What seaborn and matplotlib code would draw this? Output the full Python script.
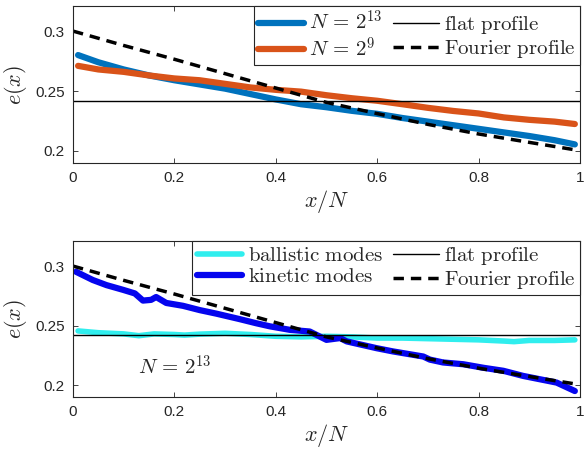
import matplotlib
matplotlib.use('Agg')
import matplotlib.pyplot as plt
import seaborn as sns

# top panel: energy profile for two system sizes
x_top = [0.01, 0.05, 0.10, 0.15, 0.20, 0.25, 0.30, 0.35, 0.40, 0.45, 0.50,
         0.55, 0.60, 0.65, 0.70, 0.75, 0.80, 0.85, 0.90, 0.95, 0.99]
e_n13 = [0.280, 0.274, 0.268, 0.263, 0.259, 0.2555, 0.252, 0.2475, 0.243, 0.239, 0.2365,
         0.2335, 0.231, 0.2275, 0.2245, 0.2215, 0.2185, 0.2155, 0.2125, 0.209, 0.2055]
e_n9 = [0.271, 0.268, 0.266, 0.263, 0.2605, 0.259, 0.256, 0.253, 0.251, 0.2495, 0.2465,
        0.244, 0.2419, 0.239, 0.236, 0.2334, 0.2313, 0.228, 0.226, 0.2245, 0.2225]

# bottom panel: ballistic / kinetic contributions for N = 2^13
x_kin = [0.006, 0.039, 0.066, 0.099, 0.122, 0.138, 0.154, 0.164, 0.184, 0.217, 0.25,
         0.283, 0.329, 0.361, 0.388, 0.428, 0.467, 0.50, 0.527, 0.54, 0.599, 0.631,
         0.691, 0.704, 0.73, 0.77, 0.81, 0.849, 0.888, 0.928, 0.954, 0.99]
e_kin = [0.2952, 0.2883, 0.284, 0.280, 0.277, 0.271, 0.2716, 0.274, 0.269, 0.2666, 0.263,
         0.260, 0.2554, 0.252, 0.2494, 0.2464, 0.245, 0.238, 0.2395, 0.2367, 0.231, 0.2283,
         0.224, 0.2214, 0.219, 0.2175, 0.2145, 0.212, 0.2077, 0.2043, 0.2021, 0.195]
x_bal = [0.01, 0.05, 0.10, 0.13, 0.16, 0.20, 0.22, 0.25, 0.30, 0.35, 0.40, 0.45,
         0.50, 0.55, 0.60, 0.65, 0.70, 0.75, 0.80, 0.85, 0.87, 0.90, 0.95, 0.99]
e_bal = [0.2455, 0.244, 0.243, 0.2415, 0.243, 0.2425, 0.242, 0.2428, 0.2435, 0.2425, 0.241, 0.2405,
         0.241, 0.2405, 0.2395, 0.2395, 0.239, 0.2385, 0.238, 0.237, 0.2365, 0.2375, 0.2375, 0.238]

# reference profiles
x_flat = [0.0, 1.0]
e_flat = [0.2421, 0.2421]
x_four = [0.0, 0.1, 0.2, 0.3, 0.4, 0.5, 0.6, 0.7, 0.8, 0.9, 0.99]
e_four = [0.300, 0.288, 0.2765, 0.2645, 0.2525, 0.2405, 0.2312, 0.2222, 0.2142, 0.2072, 0.2010]

sns.set_theme(style='ticks')
plt.rcParams['font.family'] = ['Liberation Sans', 'DejaVu Sans']
plt.rcParams['mathtext.fontset'] = 'cm'
plt.rcParams['lines.dashed_pattern'] = [3.0, 2.0]
plt.rcParams['axes.edgecolor'] = '#262626'
plt.rcParams['axes.linewidth'] = 0.8
plt.rcParams['xtick.direction'] = 'in'
plt.rcParams['ytick.direction'] = 'in'
plt.rcParams['xtick.top'] = True
plt.rcParams['ytick.right'] = True

fig = plt.figure(figsize=(5.84, 4.54), dpi=100)
ax1 = fig.add_axes([0.125, 0.641, 0.868, 0.346])
ax2 = fig.add_axes([0.125, 0.1256, 0.868, 0.3434])

sns.lineplot(x=x_top, y=e_n13, ax=ax1, color='#0072BD', linewidth=4.5,
             label=r'$N\,=\,2^{13}$')
sns.lineplot(x=x_top, y=e_n9, ax=ax1, color='#D95319', linewidth=4.5,
             label=r'$N\,=\,2^{9}$')
sns.lineplot(x=x_flat, y=e_flat, ax=ax1, color='black', linewidth=1.0,
             label=r'$\mathrm{flat\ profile}$')
sns.lineplot(x=x_four, y=e_four, ax=ax1, color='black', linewidth=2.5, linestyle='--',
             label=r'$\mathrm{Fourier\ profile}$')

sns.lineplot(x=x_bal, y=e_bal, ax=ax2, color='#30EEEE', linewidth=4.0,
             label=r'$\mathrm{ballistic\ modes}$')
sns.lineplot(x=x_kin, y=e_kin, ax=ax2, color='#0505EE', linewidth=4.5,
             label=r'$\mathrm{kinetic\ modes}$')
sns.lineplot(x=x_flat, y=e_flat, ax=ax2, color='black', linewidth=1.0,
             label=r'$\mathrm{flat\ profile}$')
sns.lineplot(x=x_four, y=e_four, ax=ax2, color='black', linewidth=2.5, linestyle='--',
             label=r'$\mathrm{Fourier\ profile}$')
ax2.text(0.128, 0.2157, r'$N\,=\,2^{13}$', fontsize=15, va='center', ha='left')

for ax in (ax1, ax2):
    ax.set_xlim(0, 1)
    ax.set_ylim(0.19, 0.321)
    ax.set_xticks([0, 0.2, 0.4, 0.6, 0.8, 1])
    ax.set_xticklabels(['0', '0.2', '0.4', '0.6', '0.8', '1'])
    ax.set_yticks([0.2, 0.25, 0.3])
    ax.set_yticklabels(['0.2', '0.25', '0.3'])
    ax.tick_params(labelsize=11, length=3.5, width=0.6, colors='#262626',
                   labelcolor='#262626', pad=6)
    ax.set_xlabel(r'$x/N$', fontsize=16, labelpad=2)
    ax.set_ylabel(r'$e(x)$', fontsize=16, labelpad=4)
    leg = ax.legend(loc='upper right', ncol=2, fontsize=15, frameon=True, fancybox=False,
                    borderaxespad=0, handlelength=2.2, handletextpad=0.25,
                    columnspacing=0.5, borderpad=0.2, labelspacing=0.1)
    leg.get_frame().set_edgecolor('#262626')
    leg.get_frame().set_linewidth(0.8)
    leg.get_frame().set_alpha(1)

fig.savefig('out.png', dpi=100)
